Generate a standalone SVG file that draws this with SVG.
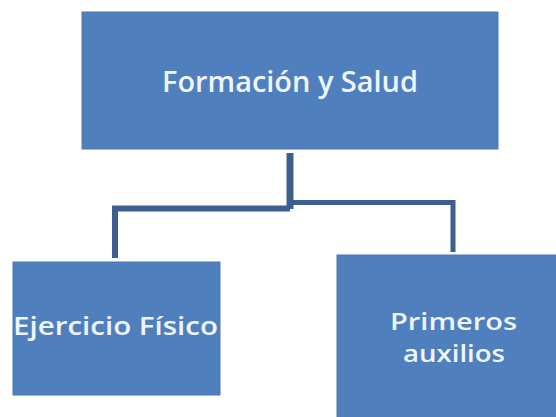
<svg xmlns="http://www.w3.org/2000/svg" width="556" height="417" viewBox="0 0 556 417">
  <style>
    .box { fill: #4F7FBC; stroke: #4A78B3; stroke-width: 1; }
    .lbl { font-family: "Open Sans", "Noto Sans", "Liberation Sans", sans-serif; fill: #EEF5FC; font-weight: 600; }
    .conn { fill: none; stroke: #3C5F8E; stroke-linecap: butt; stroke-linejoin: miter; }
  </style>
  <rect width="556" height="417" fill="#FFFFFF"/>
  <g id="connectors">
    <path class="conn" stroke-width="7" d="M290,153 V209"/>
    <path class="conn" stroke-width="6" d="M290,208.5 H115 V258"/>
    <path class="conn" stroke-width="5" d="M290,202.5 H453 V252"/>
  </g>
  <g id="node-formacion">
    <rect class="box" x="82" y="12" width="416" height="137"/>
    <text class="lbl" x="290" y="92" font-size="28" text-anchor="middle" textLength="256" lengthAdjust="spacingAndGlyphs">Formación y Salud</text>
  </g>
  <g id="node-ejercicio">
    <rect class="box" x="13" y="262" width="207" height="133"/>
    <text class="lbl" x="115.5" y="335" font-size="25" text-anchor="middle" textLength="205" lengthAdjust="spacingAndGlyphs">Ejercicio Físico</text>
  </g>
  <g id="node-primeros">
    <rect class="box" x="337" y="255" width="222" height="165"/>
    <text class="lbl" x="453.5" y="330" font-size="24" text-anchor="middle" textLength="127" lengthAdjust="spacingAndGlyphs">Primeros</text>
    <text class="lbl" x="454" y="362" font-size="24" text-anchor="middle" textLength="102" lengthAdjust="spacingAndGlyphs">auxilios</text>
  </g>
</svg>
